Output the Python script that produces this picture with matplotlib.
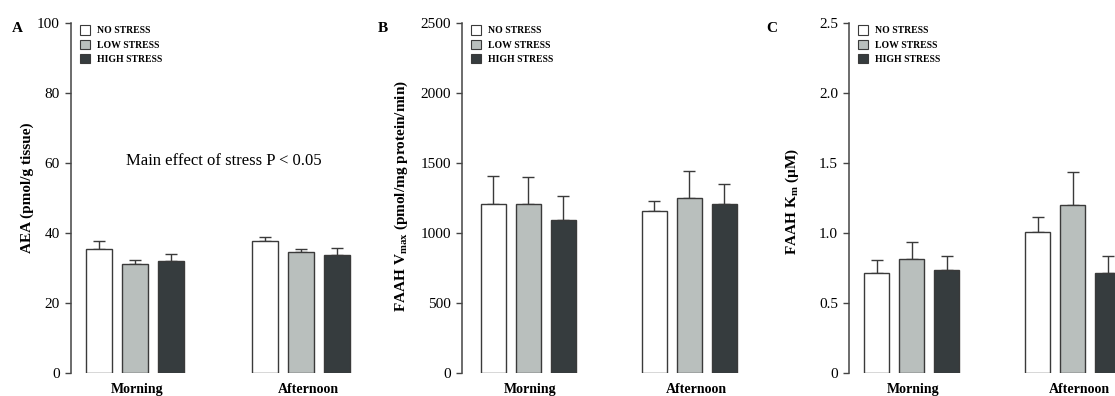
import numpy as np
import matplotlib
matplotlib.use('Agg')
import matplotlib.pyplot as plt

plt.rcParams['font.family'] = ['Liberation Serif', 'DejaVu Serif']
plt.rcParams['mathtext.fontset'] = 'custom'
plt.rcParams['mathtext.rm'] = 'Liberation Serif'

# %% Data

groups = ['Morning', 'Afternoon']
conditions = ['NO STRESS', 'LOW STRESS', 'HIGH STRESS']
colors = ['#ffffff', '#b9bfbd', '#363c3e']

aea_mean = [[35.5, 31.1, 31.9], [37.7, 34.6, 33.8]]
aea_sem = [[2.3, 1.3, 2.0], [1.3, 0.7, 1.9]]

vmax_mean = [[1210, 1205, 1090], [1160, 1250, 1210]]
vmax_sem = [[195, 193, 177], [66, 196, 140]]

km_mean = [[0.712, 0.812, 0.738], [1.004, 1.20, 0.717]]
km_sem = [[0.095, 0.127, 0.096], [0.109, 0.236, 0.119]]

panels = [
    dict(letter='A', mean=aea_mean, sem=aea_sem, ymax=100, yticks=[0, 20, 40, 60, 80, 100],
         yticklabels=['0', '20', '40', '60', '80', '100'],
         ylabel='AEA (pmol/g tissue)', left=71, xmin=-0.79, pitch=36,
         letter_x=17, ylabel_x=34, ylabel_y=0.53),
    dict(letter='B', mean=vmax_mean, sem=vmax_sem, ymax=2500, yticks=[0, 500, 1000, 1500, 2000, 2500],
         yticklabels=['0', '500', '1000', '1500', '2000', '2500'],
         ylabel=r'FAAH V$_\mathregular{max}$ (pmol/mg protein/min)', left=462, xmin=-0.89, pitch=35,
         letter_x=383, ylabel_x=410, ylabel_y=0.505),
    dict(letter='C', mean=km_mean, sem=km_sem, ymax=2.5, yticks=[0, 0.5, 1.0, 1.5, 2.0, 2.5],
         yticklabels=['0', '0.5', '1.0', '1.5', '2.0', '2.5'],
         ylabel=r'FAAH K$_\mathregular{m}$ (µM)', left=849, xmin=-0.79, pitch=35,
         letter_x=772, ylabel_x=801, ylabel_y=0.49),
]

# %% Layout helpers

W, H = 1115, 396
fig = plt.figure(figsize=(W / 100, H / 100), dpi=100)

y0_px, ytop_px = 373, 23
group_offset = 4.6
bar_w = 0.72
span = 8.0

for p in panels:
    ax_w = span * p['pitch']
    ax = fig.add_axes([p['left'] / W, (H - y0_px) / H, ax_w / W, (y0_px - ytop_px) / H])
    ax.set_xlim(p['xmin'], p['xmin'] + span)
    ax.set_ylim(0, p['ymax'])

    mean = np.array(p['mean'])
    sem = np.array(p['sem'])
    for gi in range(len(groups)):
        xs = np.arange(3) + gi * group_offset
        for ci in range(3):
            ax.bar(xs[ci], mean[gi, ci], width=bar_w, color=colors[ci], edgecolor='#3a3a3a',
                   linewidth=1.0, zorder=2, label=conditions[ci] if gi == 0 else None)
        ax.errorbar(xs, mean[gi], yerr=[np.zeros(3), sem[gi]], fmt='none', ecolor='#3a3a3a',
                    elinewidth=1.0, capsize=4.5, capthick=1.0, zorder=1)

    for s in ['top', 'right', 'bottom']:
        ax.spines[s].set_visible(False)
    ax.spines['left'].set_color('#444444')
    ax.spines['left'].set_linewidth(1.1)
    ax.set_yticks(p['yticks'])
    ax.set_yticklabels(p['yticklabels'], fontsize=11)
    ax.tick_params(axis='y', direction='out', length=4, width=1, color='#444444', pad=4)
    ax.set_xticks([1.05, group_offset + 1.2])
    ax.set_xticklabels(groups, fontsize=10, fontweight='bold')
    ax.tick_params(axis='x', length=0, pad=7)

    ax.set_ylabel(p['ylabel'], fontsize=11, fontweight='bold')
    ax.yaxis.set_label_coords((p['ylabel_x'] - p['left']) / ax_w, p['ylabel_y'])

    leg = ax.legend(loc='upper left', bbox_to_anchor=(0.01, 1.01), frameon=False,
                    prop=dict(family='Liberation Serif', weight='bold', size=7),
                    handlelength=1.1, handleheight=1.1, handletextpad=0.65,
                    labelspacing=0.45, borderaxespad=0.2)
    for h in leg.legend_handles:
        h.set_edgecolor('#3a3a3a')
        h.set_linewidth(0.8)

    fig.text(p['letter_x'] / W, 1 - 28 / H, p['letter'], fontsize=11, fontweight='bold',
             ha='center', va='center')

    if p['letter'] == 'A':
        ax.text(3.45, 60.5, 'Main effect of stress P < 0.05', fontsize=12,
                ha='center', va='center')

fig.savefig('out.png', dpi=100, facecolor='white')
